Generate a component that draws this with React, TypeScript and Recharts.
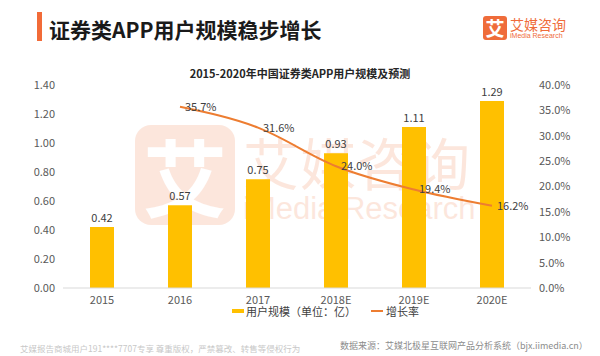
import { ComposedChart, Bar, Line, XAxis, YAxis, LabelList, Legend } from 'recharts'

const years = ['2015', '2016', '2017', '2018E', '2019E', '2020E']
const users = [0.42, 0.57, 0.75, 0.93, 1.11, 1.29]
const growth = [null, 0.357, 0.316, 0.24, 0.194, 0.162]
const leftTicks = [0, 0.2, 0.4, 0.6, 0.8, 1.0, 1.2, 1.4]
const rightTicks = [0, 0.05, 0.1, 0.15, 0.2, 0.25, 0.3, 0.35, 0.4]

const FONT = '"Noto Sans CJK SC", "Noto Sans", sans-serif'
const BAR = '#FFC000'
const LINE = '#ED7D31'
const tick = { fontSize: 11, fill: '#595959', fontFamily: FONT }

const data = years.map((y, i) => ({ year: y, users: users[i], growth: growth[i] }))

const LegendContent = () => (
  <div style={{ display: 'flex', alignItems: 'center', fontSize: 11, color: '#404040', fontFamily: FONT }}>
    <span style={{ width: 12, height: 4, background: BAR, marginRight: 2 }} />
    <span>用户规模（单位：亿）</span>
    <span style={{ width: 12, height: 2, background: LINE, marginLeft: 15, marginRight: 3 }} />
    <span>增长率</span>
  </div>
)

// faint logo watermark behind the plot
const Watermark = () => (
  <div style={{ position: 'absolute', left: 0, top: 0, width: 600, height: 356, opacity: 0.18, fontFamily: FONT }}>
    <div style={{ position: 'absolute', left: 135, top: 125, width: 100, height: 100, borderRadius: 16, background: '#F07A45', color: '#fff', fontSize: 84, fontWeight: 700, lineHeight: '100px', textAlign: 'center' }}>艾</div>
    <div style={{ position: 'absolute', left: 243, top: 126, fontSize: 56, lineHeight: '70px', color: '#F07A45', letterSpacing: 1 }}>艾媒咨询</div>
    <div style={{ position: 'absolute', left: 243, top: 193, fontSize: 31, lineHeight: '32px', color: '#F07A45', fontFamily: 'Arial, "Liberation Sans", sans-serif' }}>iMedia Research</div>
  </div>
)

export default function App() {
  return (
    <div style={{ position: 'absolute', left: 0, top: 0, width: 600, height: 356, background: '#fff', fontFamily: FONT, overflow: 'hidden' }}>
      <Watermark />
      <div style={{ position: 'absolute', left: 37, top: 12, width: 5, height: 29, background: '#F26B38' }} />
      <div style={{ position: 'absolute', left: 49, top: 15, fontSize: 21, fontWeight: 700, color: '#1a1a1a', lineHeight: '28px', whiteSpace: 'nowrap' }}>
        证券类APP用户规模稳步增长
      </div>
      <div style={{ position: 'absolute', left: 483, top: 16, width: 24, height: 24, borderRadius: 3, background: '#EF6C3A', color: '#fff', fontSize: 19, fontWeight: 700, lineHeight: '24px', textAlign: 'center' }}>艾</div>
      <div style={{ position: 'absolute', left: 510, top: 15, fontSize: 14, color: '#EF6C3A', lineHeight: '18px', whiteSpace: 'nowrap' }}>艾媒咨询</div>
      <div style={{ position: 'absolute', left: 510, top: 32, fontSize: 7, color: '#EF6C3A', lineHeight: '8px', whiteSpace: 'nowrap', fontFamily: 'Arial, "Liberation Sans", sans-serif' }}>iMedia Research</div>
      <div style={{ position: 'absolute', left: 0, width: 600, top: 65, textAlign: 'center', fontSize: 11, fontWeight: 700, color: '#262626', lineHeight: '16px' }}>
        2015-2020年中国证券类APP用户规模及预测
      </div>
      <div style={{ position: 'absolute', left: 0, top: 0 }}>
        <ComposedChart width={600} height={356} data={data} margin={{ top: 85, right: 0, bottom: 38, left: 0 }}>
          <XAxis dataKey="year" axisLine={{ stroke: '#d9d9d9' }} tickLine={false} tick={tick} height={30} interval={0} />
          <YAxis yAxisId="l" width={63} domain={[0, 1.4]} ticks={leftTicks} axisLine={false} tickLine={false} tick={tick} tickFormatter={(v: number) => v.toFixed(2)} />
          <YAxis yAxisId="r" orientation="right" width={69} domain={[0, 0.4]} ticks={rightTicks} axisLine={false} tickLine={false} tick={tick} tickFormatter={(v: number) => (v * 100).toFixed(1) + '%'} />
          <Bar yAxisId="l" dataKey="users" fill={BAR} barSize={24} isAnimationActive={false}>
            <LabelList dataKey="users" position="top" style={{ fontSize: 11, fill: '#404040', fontFamily: FONT }} formatter={(v: number) => v.toFixed(2)} />
          </Bar>
          <Line yAxisId="r" type="monotone" dataKey="growth" stroke={LINE} strokeWidth={2} dot={false} isAnimationActive={false}>
            <LabelList dataKey="growth" position="right" offset={5} style={{ fontSize: 11, fill: '#404040', fontFamily: FONT }} formatter={(v: number) => (v == null ? '' : (v * 100).toFixed(1) + '%')} />
          </Line>
          <Legend layout="horizontal" verticalAlign="middle" align="center" content={<LegendContent />} wrapperStyle={{ top: 303, left: 232, width: 'auto' }} />
        </ComposedChart>
      </div>
      <div style={{ position: 'absolute', left: 20, top: 342, fontSize: 8.5, color: '#c8c8c8', lineHeight: '12px', whiteSpace: 'nowrap' }}>
        艾媒报告商城用户191****7707专享 尊重版权，严禁篡改、转售等侵权行为
      </div>
      <div style={{ position: 'absolute', left: 340, top: 340, fontSize: 9, color: '#8c8c8c', lineHeight: '12px', whiteSpace: 'nowrap' }}>
        数据来源：艾媒北极星互联网产品分析系统（bjx.iimedia.cn）
      </div>
    </div>
  )
}
